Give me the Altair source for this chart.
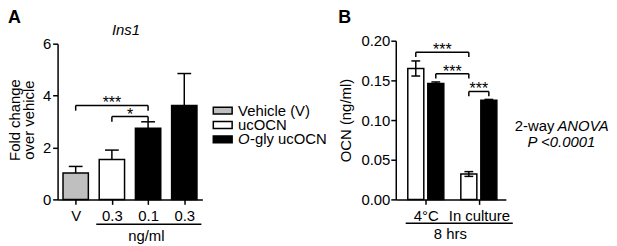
import json
import altair as alt
import pandas as pd

FONT = "Liberation Sans"

# ---------------- Panel A data ----------------
a_ticklabels = ["V", "0.3", "0.1", "0.3"]
a_treatment = ["Vehicle (V)", "ucOCN", "O-gly ucOCN", "O-gly ucOCN"]
a_mean = [1.02, 1.54, 2.74, 3.62]
a_err = [0.25, 0.36, 0.25, 1.23]
a_yticks = [0, 2, 4, 6]
a_sig_from = [0, 1]
a_sig_to = [2, 2]
a_sig_text = ["***", "*"]
a_sig_level = [3.62, 3.19]
a_title = "Ins1"
a_ytitle = ["Fold change", "over vehicle"]
a_xtitle = "ng/ml"

legend_names = ["Vehicle (V)", "ucOCN", "O-gly ucOCN"]
legend_colors = ["#bfbfbf", "#ffffff", "#000000"]
# legend label pieces (text, italic?)
legend_pieces = [[("Vehicle (V)", False)], [("ucOCN", False)], [("O", True), ("-gly ucOCN", False)]]

# ---------------- Panel B data ----------------
b_groups = ["4°C", "In culture"]
b_series = ["ucOCN", "O-gly ucOCN"]
b_mean = [[0.165, 0.146], [0.032, 0.125]]
b_err = [[0.0095, 0.002], [0.003, 0.001]]
b_yticks = [0.0, 0.05, 0.10, 0.15, 0.20]
b_sig_from = [(0, 0), (0, 1), (1, 0)]
b_sig_to = [(1, 0), (1, 0), (1, 1)]
b_sig_text = ["***", "***", "***"]
b_sig_level = [0.1856, 0.1585, 0.136]
b_ytitle = "OCN (ng/ml)"
b_xtitle = "8 hrs"
b_note1 = [("2-way", False), ("ANOVA", True)]
b_note2 = "P <0.0001"

# ---------------- helpers ----------------
def txt(s, x, y, size=15, italic=False, bold=False, align="left", baseline="middle", angle=0):
    return alt.Chart(pd.DataFrame({"t": [s]})).mark_text(
        font=FONT, fontSize=size, fontStyle="italic" if italic else "normal",
        fontWeight="bold" if bold else "normal", align=align, baseline=baseline,
        color="black", angle=angle
    ).encode(x=alt.value(x), y=alt.value(y), text="t:N")

def hline(x1, x2, y, w=1.5):
    return alt.Chart(pd.DataFrame({"a": [0]})).mark_rule(color="black", strokeWidth=w).encode(
        x=alt.value(x1), x2=alt.value(x2), y=alt.value(y))

def brackets(df, X, Y, size=16):
    base = alt.Chart(df)
    h = base.mark_rule(color="black", strokeWidth=1.5).encode(x=X("x0"), x2="x1", y=Y("level"))
    l = base.mark_rule(color="black", strokeWidth=1.5).encode(x=X("x0"), y=Y("level"), y2="low")
    r = base.mark_rule(color="black", strokeWidth=1.5).encode(x=X("x1"), y=Y("level"), y2="low")
    t = base.mark_text(font=FONT, fontSize=size, baseline="alphabetic", dy=3, color="black").encode(
        x=X("mid"), y=Y("level"), text="lab:N")
    return [h, l, r, t]

H = 160  # common plot-area height

# ---------------- Panel A ----------------
WA = 146
a_pos = [i + 0.5 for i in range(len(a_mean))]
dfA = pd.DataFrame({"pos": a_pos, "mean": a_mean, "err": a_err, "treat": a_treatment})
dfA["top"] = dfA["mean"] + dfA["err"]
dfA["x0"] = dfA["pos"] - 0.35
dfA["x1"] = dfA["pos"] + 0.35
dfA["c0"] = dfA["pos"] - 0.19
dfA["c1"] = dfA["pos"] + 0.19
dfA["zero"] = 0.0

labA = " : ".join(f"datum.value < {i+1} ? {json.dumps(l)}" for i, l in enumerate(a_ticklabels[:-1])) + f" : {json.dumps(a_ticklabels[-1])}"
axXA = alt.Axis(values=a_pos, labelExpr=labA, title=None, tickSize=5, labelPadding=4,
                labelFontSize=15, grid=False)
scXA = alt.Scale(domain=[0, len(a_mean)], nice=False, zero=False)
axYA = alt.Axis(values=a_yticks, title=None, tickSize=5, labelPadding=2, labelFontSize=15, grid=False)
scYA = alt.Scale(domain=[0, 6], nice=False, range=[H, 3])

def XA(f):
    return alt.X(f"{f}:Q", scale=scXA, axis=axXA)

def YA(f):
    return alt.Y(f"{f}:Q", scale=scYA, axis=axYA)

barsA = alt.Chart(dfA).mark_rect(stroke="black", strokeWidth=1.5).encode(
    x=XA("x0"), x2="x1", y=YA("mean"), y2="zero",
    fill=alt.Fill("treat:N", scale=alt.Scale(domain=legend_names, range=legend_colors), legend=None))
errA = alt.Chart(dfA).mark_rule(color="black", strokeWidth=1.5).encode(x=XA("pos"), y=YA("mean"), y2="top")
capA = alt.Chart(dfA).mark_rule(color="black", strokeWidth=1.5).encode(x=XA("c0"), x2="c1", y=YA("top"))

sigA = pd.DataFrame({
    "x0": [a_pos[i] for i in a_sig_from], "x1": [a_pos[i] for i in a_sig_to],
    "level": a_sig_level, "lab": a_sig_text})
sigA["low"] = sigA["level"] - 0.2
sigA["mid"] = (sigA["x0"] + sigA["x1"]) / 2

# positions below are relative to the plot origin (page x=58, y=39)
layersA = [barsA, errA, capA] + brackets(sigA, XA, YA)
layersA += [
    txt("A", -50, -18, size=18, bold=True, baseline="alphabetic"),
    txt(a_title, 69, -11, italic=True, align="center"),
    txt(a_ytitle[0], -43, 80, align="center", angle=270),
    txt(a_ytitle[1], -28.5, 80, align="center", angle=270),
    hline(39, 145, 185),
    txt(a_xtitle, 89.5, 197, align="center"),
]
# manual legend
leg_y = [70.5, 85, 99.5]
for k, name in enumerate(legend_names):
    y = leg_y[k]
    layersA.append(alt.Chart(pd.DataFrame({"n": [name]})).mark_rect(stroke="black", strokeWidth=1.5).encode(
        x=alt.value(157), x2=alt.value(176), y=alt.value(y - 3.5), y2=alt.value(y + 3.5),
        fill=alt.Fill("n:N", scale=alt.Scale(domain=legend_names, range=legend_colors), legend=None)))
    x = 182
    for piece, it in legend_pieces[k]:
        layersA.append(txt(piece, x, y, italic=it))
        x += 12

chartA = alt.layer(*layersA).properties(width=WA, height=H)

# ---------------- Panel B ----------------
WB = 111
GAP = 2.65
def bpos(g, s):
    return g * GAP + s + 1

rows = []
for g, grp in enumerate(b_groups):
    for s, ser in enumerate(b_series):
        rows.append({"grp": grp, "ser": ser, "pos": bpos(g, s), "mean": b_mean[g][s], "err": b_err[g][s]})
dfB = pd.DataFrame(rows)
dfB["lo"] = dfB["mean"] - dfB["err"]
dfB["hi"] = dfB["mean"] + dfB["err"]
dfB["x0"] = dfB["pos"] - 0.4
dfB["x1"] = dfB["pos"] + 0.4
dfB["c0"] = dfB["pos"] - 0.22
dfB["c1"] = dfB["pos"] + 0.22
dfB["zero"] = 0.0

b_tickpos = [bpos(g, 0.5) for g in range(len(b_groups))]
labB = f"datum.value < {(b_tickpos[0] + b_tickpos[1]) / 2} ? {json.dumps(b_groups[0])} : {json.dumps(b_groups[1])}"
axXB = alt.Axis(values=b_tickpos, labelExpr=labB, title=None, tickSize=5, labelPadding=4,
                labelFontSize=15, grid=False)
scXB = alt.Scale(domain=[0, 5.5], nice=False, zero=False)
axYB = alt.Axis(values=b_yticks, format=".2f", title=b_ytitle, titleFontSize=15, titleFontWeight="normal",
                titlePadding=7, tickSize=5, labelPadding=1, labelFontSize=15, grid=False)
scYB = alt.Scale(domain=[0, 0.2], nice=False)

def XB(f):
    return alt.X(f"{f}:Q", scale=scXB, axis=axXB)

def YB(f):
    return alt.Y(f"{f}:Q", scale=scYB, axis=axYB)

barsB = alt.Chart(dfB).mark_rect(stroke="black", strokeWidth=1.5).encode(
    x=XB("x0"), x2="x1", y=YB("mean"), y2="zero",
    fill=alt.Fill("ser:N", scale=alt.Scale(domain=b_series, range=["#ffffff", "#000000"]), legend=None))
errB = alt.Chart(dfB).mark_rule(color="black", strokeWidth=1.5).encode(x=XB("pos"), y=YB("lo"), y2="hi")
capHiB = alt.Chart(dfB).mark_rule(color="black", strokeWidth=1.5).encode(x=XB("c0"), x2="c1", y=YB("hi"))
capLoB = alt.Chart(dfB).mark_rule(color="black", strokeWidth=1.5).encode(x=XB("c0"), x2="c1", y=YB("lo"))

sigB = pd.DataFrame({
    "x0": [bpos(*p) for p in b_sig_from], "x1": [bpos(*p) for p in b_sig_to],
    "level": b_sig_level, "lab": b_sig_text})
sigB["low"] = sigB["level"] - 0.006
sigB["mid"] = (sigB["x0"] + sigB["x1"]) / 2

# positions below are relative to the plot origin (page x=398, y=39)
layersB = [barsB, errB, capHiB, capLoB] + brackets(sigB, XB, YB)
layersB += [
    txt("B", -58, -18, size=18, bold=True, baseline="alphabetic"),
    hline(10, 118, 184),
    txt(b_xtitle, 55, 195, align="center"),
    txt(b_note1[0][0], 120, 86, italic=b_note1[0][1]),
    txt(b_note1[1][0], 163, 86, italic=b_note1[1][1]),
    txt(b_note2, 167, 102, italic=True, align="center"),
]
chartB = alt.layer(*layersB).properties(width=WB, height=H)

chart = alt.hconcat(chartA, chartB, spacing=11).properties(padding=0).configure_view(stroke=None).configure_axis(
    domainColor="black", tickColor="black", labelColor="black", titleColor="black",
    domainWidth=1.5, tickWidth=1.5, labelFont=FONT, titleFont=FONT
).configure_text(font=FONT)

chart.save("out.html", embed_options={"renderer": "svg", "actions": False})
